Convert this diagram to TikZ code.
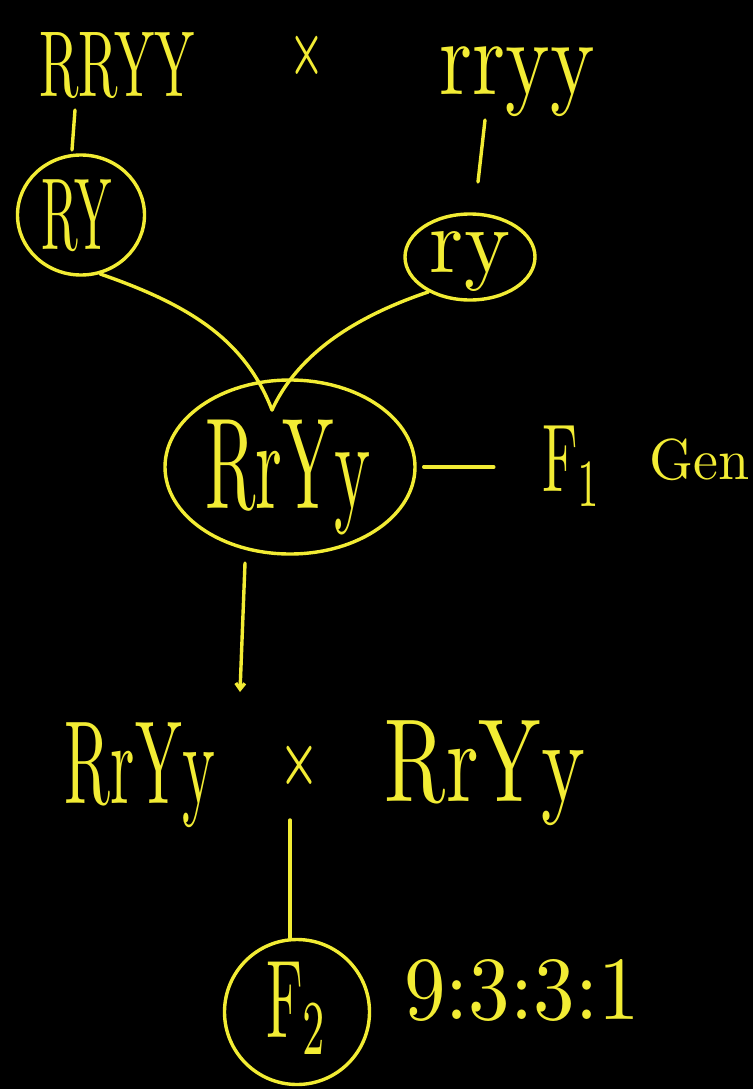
\documentclass[tikz,border=0pt]{standalone}
\usetikzlibrary{shapes.geometric,arrows.meta}
\definecolor{hand}{RGB}{242,236,52}
\newcommand\hw[3]{\resizebox*{#1pt}{#2pt}{#3}}
\begin{document}
\begin{tikzpicture}[x=1pt,y=-1pt,
  ink/.style={draw=hand,line width=3.4pt,line cap=round,line join=round},
  lbl/.style={text=hand,inner sep=0pt},
  ring/.style={ellipse,draw=hand,line width=3.4pt,inner sep=0pt}]
\fill[black] (0,0) rectangle (753,1089);
\useasboundingbox (0,0) rectangle (753,1089);
% parents
\node[lbl] (P1) at (117,66) {\hw{155}{66}{RRYY}};
\node[lbl] (X1) at (307,55) {\hw{35}{40}{\bfseries\texttimes}};
\node[lbl] (P2) at (517,82) {\hw{155}{70}{rryy}};
% gametes
\node[ring,minimum width=127pt,minimum height=120pt] (G1) at (81,215) {};
\node[lbl] (T1) at (77,216) {\hw{70}{72}{RY}};
\node[ring,minimum width=130pt,minimum height=86pt] (G2) at (470,257) {};
\node[lbl] (T2) at (470,262) {\hw{80}{60}{ry}};
\coordinate (P1b) at (75,110);
\coordinate (P2b) at (485,120);
\coordinate (P1e) at (72,150);
\coordinate (P2e) at (478,182);
\draw[ink] (P1b) -- (P1e);
\draw[ink] (P2b) -- (P2e);
% F1
\node[ring,minimum width=250pt,minimum height=174pt] (F1) at (290,467) {};
\node[lbl] (T3) at (288,478) {\hw{165}{115}{RrYy}};
\coordinate (M) at (272,410);
\draw[ink] (G1.-72) .. controls (190,305) and (245,340) .. (M);
\draw[ink] (G2.-140) .. controls (345,320) and (295,360) .. (M);
\node[lbl] (Fn) at (572,466) {\hw{60}{80}{F\textsubscript{1}}};
\node[lbl] (Gen) at (700,460) {\hw{100}{42}{Gen}};
\draw[ink] ([xshift=7pt]F1.east) -- ([xshift=-48pt]Fn.west |- F1.east);
% F1 cross
\node[lbl] (C1) at (140,775) {\hw{150}{105}{RrYy}};
\node[lbl] (CX) at (300,765) {\hw{40}{40}{\bfseries\texttimes}};
\node[lbl] (C2) at (485,773) {\hw{200}{105}{RrYy}};
\coordinate (A0) at (245,563);
\coordinate (A) at (240,692);
\draw[ink,-{Straight Barb[length=6pt,width=9pt]}] (A0) -- (A);
% F2
\node[ring,minimum width=145pt,minimum height=145pt] (F2) at (297,1012) {};
\node[lbl] (T4) at (297,1008) {\hw{62}{92}{F\textsubscript{2}}};
\coordinate (L2) at (290,820);
\draw[ink] (L2) -- (L2 |- F2.north);
\node[lbl] (R) at (522,990) {\hw{235}{62}{9:3:3:1}};
\end{tikzpicture}
\end{document}
